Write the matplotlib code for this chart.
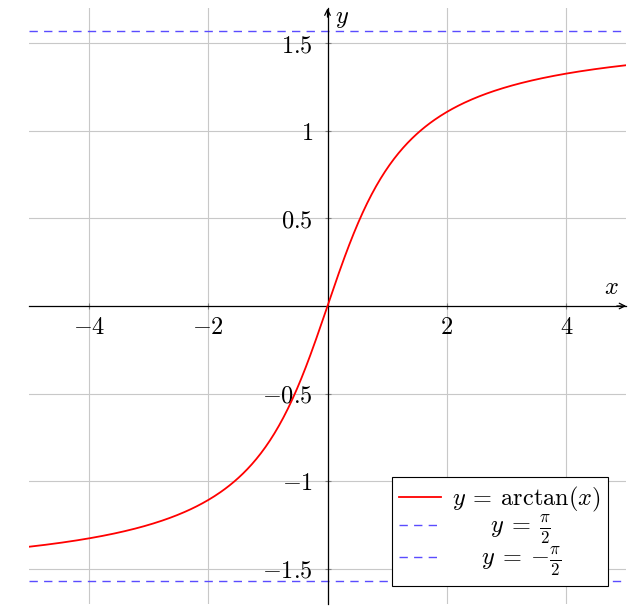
import numpy as np
import matplotlib
matplotlib.use("Agg")
import matplotlib.pyplot as plt

plt.rcParams["mathtext.fontset"] = "cm"
plt.rcParams["font.family"] = "serif"
plt.rcParams["font.serif"] = ["DejaVu Serif"]

# data
x_range = (-5, 5)
y_range = (-1.7, 1.7)
x_ticks = [-4, -2, 2, 4]
x_labels = ["$-4$", "$-2$", "$2$", "$4$"]
y_ticks = [-1.5, -1, -0.5, 0.5, 1, 1.5]
y_labels = ["$-1.5$", "$-1$", "$-0.5$", "$0.5$", "$1$", "$1.5$"]
legend_labels = [r"$y\:=\:\arctan(x)$",
                 r"$\hspace{1.8}y\:=\:\frac{\pi}{2}$",
                 r"$\hspace{1.4}y\:=\:-\frac{\pi}{2}$"]

x = np.linspace(-5, 5, 400)
y = np.arctan(x)

fs = 17.5

fig = plt.figure(figsize=(6.35, 6.08), dpi=100)
ax = fig.add_axes([29 / 635, 1 - 604 / 608, (626 - 29) / 635, (604 - 8) / 608])

ax.plot(x, y, color="red", lw=1.3, label=legend_labels[0], zorder=3)
ax.axhline(np.pi / 2, color="#5a4cff", lw=1.0, dashes=(6, 4.5), label=legend_labels[1])
ax.axhline(-np.pi / 2, color="#5a4cff", lw=1.0, dashes=(6, 4.5), label=legend_labels[2])

ax.set_xlim(*x_range)
ax.set_ylim(*y_range)

for s in ["top", "right"]:
    ax.spines[s].set_visible(False)
ax.spines["left"].set_position("zero")
ax.spines["bottom"].set_position("zero")
ax.spines["left"].set_linewidth(0.9)
ax.spines["bottom"].set_linewidth(0.9)

ax.set_xticks(x_ticks)
ax.set_xticklabels(x_labels)
ax.set_yticks(y_ticks)
ax.set_yticklabels(y_labels)
ax.grid(True, color="#c8c8c8", lw=0.8)
ax.axvline(0, color="#c8c8c8", lw=0.8, zorder=0)
ax.tick_params(direction="inout", length=5, color="#808080", width=0.8, labelsize=fs)
ax.tick_params(axis="x", pad=5)
ax.tick_params(axis="y", pad=8)

# arrows
ax.annotate("", xy=(1.005, 0), xytext=(0.98, 0), xycoords=ax.get_yaxis_transform(),
            arrowprops=dict(arrowstyle="->", color="k", lw=0.9), annotation_clip=False)
ax.annotate("", xy=(0, 1.004), xytext=(0, 0.98), xycoords=ax.get_xaxis_transform(),
            arrowprops=dict(arrowstyle="->", color="k", lw=0.9), annotation_clip=False)
ax.text(4.75, 0.04, "$x$", fontsize=fs, ha="center", va="bottom")
ax.text(0.12, 1.64, "$y$", fontsize=fs, ha="left", va="center")

leg = ax.legend(loc="lower right", fontsize=fs, fancybox=False, edgecolor="black",
                framealpha=1, borderaxespad=0.75, handlelength=1.7, handletextpad=0.45,
                labelspacing=0.0, borderpad=0.3)
leg.get_frame().set_linewidth(0.8)

fig.savefig("out.png", dpi=100)
